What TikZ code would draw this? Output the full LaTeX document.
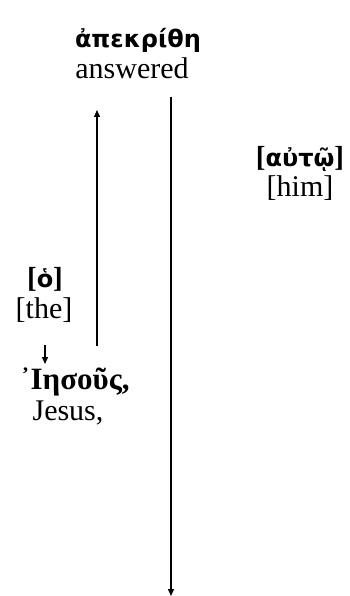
\documentclass[tikz,border=0pt]{standalone}
\usepackage{fontspec}
\setmainfont{Liberation Serif}
\newfontfamily\grk{DejaVu Sans}
\usetikzlibrary{arrows.meta}
\tikzset{
  gk/.style={font=\grk\bfseries\fontsize{24}{26}\selectfont, inner sep=0pt, anchor=base},
  gkserif/.style={font=\bfseries\fontsize{31}{33}\selectfont, inner sep=0pt, anchor=base},
  en/.style={font=\fontsize{30}{32}\selectfont, inner sep=0pt, anchor=base},
  arr/.style={-{Triangle[length=7pt,width=6pt]}, line width=1.3pt}
}
\newcommand\brk[1]{{\rmfamily\bfseries\fontsize{29}{31}\selectfont #1}}
\begin{document}
\begin{tikzpicture}[x=1pt,y=-1pt]
\useasboundingbox (0,0) rectangle (350,596);
\node[gk] (g1) at (138,48) {ἀπεκρίθη};
\node[en] (e1) at (132,79) {answered};
\node[gk] (g2) at (300,166) {\brk{[}αὐτῷ\brk{]}};
\node[en] (e2) at (300,196) {[him]};
\node[gk] (g3) at (45,287) {\brk{[}ὁ\brk{]}};
\node[en] (e3) at (44,318) {[the]};
\node[gkserif] (g4) at (75,389) {᾿Ιησοῦς,};
\node[en] (e4) at (68,420) {Jesus,};
\coordinate (u0) at (97,346);
\coordinate (u1) at (97,110);
\coordinate (d0) at (171,97);
\coordinate (d1) at (171,596);
\coordinate (s0) at (45,345);
\coordinate (s1) at (45,364);
\draw[arr] (u0) -- (u1);
\draw[arr] (d0) -- (d1);
\draw[arr] (s0) -- (s1);
\end{tikzpicture}
\end{document}
